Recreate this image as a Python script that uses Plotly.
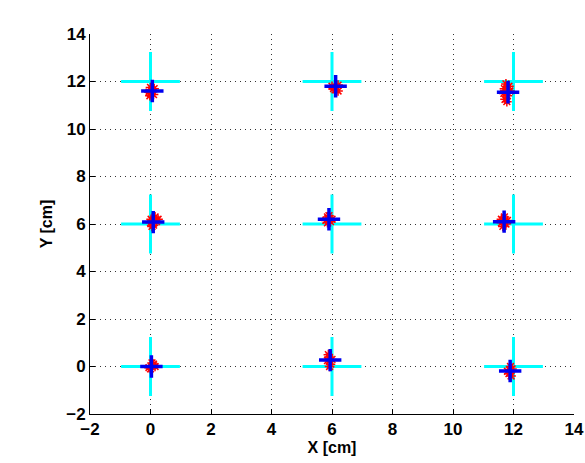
import plotly.graph_objects as go

# Ground-truth positions (cyan crosses)
true_x = [0, 6, 12, 0, 6, 12, 0, 6, 12]
true_y = [12, 12, 12, 6, 6, 6, 0, 0, 0]

# Mean estimates (blue crosses)
est_x = [0.06, 6.12, 11.82, 0.09, 5.90, 11.69, 0.03, 5.94, 11.89]
est_y = [11.60, 11.80, 11.55, 6.08, 6.20, 6.10, 0.00, 0.27, -0.19]

# Individual estimates (red asterisks)
meas_x = [0.00, -0.05, 0.10, 0.05, -0.02, 0.12, 0.00,
          6.20, 6.05, 6.10, 6.15, 6.00, 6.20,
          11.75, 11.70, 11.85, 11.80, 11.72, 11.88, 11.78, 11.68,
          0.15, 0.20, 0.05, 0.00, 0.25, 0.10, 0.02,
          5.85, 5.95, 5.80, 5.90, 6.00, 5.85,
          11.60, 11.75, 11.65, 11.80, 11.70, 11.60,
          0.10, -0.05, 0.05, 0.15, 0.00, 0.08,
          5.90, 5.95, 5.85, 6.00, 5.92, 5.88,
          11.85, 11.95, 11.90, 11.80, 11.92, 11.88]
meas_y = [11.75, 11.55, 11.45, 11.65, 11.40, 11.70, 11.50,
          11.85, 11.70, 11.65, 11.75, 11.80, 11.60,
          11.90, 11.70, 11.80, 11.40, 11.25, 11.60, 11.15, 11.50,
          6.30, 6.10, 5.90, 6.05, 6.20, 5.95, 6.20,
          6.30, 6.10, 6.15, 6.35, 6.20, 6.05,
          6.20, 6.00, 5.90, 6.15, 6.30, 6.05,
          0.10, -0.05, 0.15, 0.00, -0.10, 0.05,
          0.40, 0.10, 0.25, 0.30, 0.00, 0.50,
          -0.30, -0.10, 0.00, -0.20, -0.40, -0.15]

tick_vals = [-2, 0, 2, 4, 6, 8, 10, 12, 14]

fig = go.Figure()
fig.add_trace(go.Scatter(
    x=true_x, y=true_y, mode="markers",
    marker=dict(symbol="cross-thin", size=42, color="#00FFFF",
                line=dict(color="#00FFFF", width=3)),
    showlegend=False, hoverinfo="skip"))
fig.add_trace(go.Scatter(
    x=meas_x, y=meas_y, mode="markers",
    marker=dict(symbol="asterisk-open", size=8, color="#FF0000",
                line=dict(color="#FF0000", width=1.5)),
    showlegend=False))
fig.add_trace(go.Scatter(
    x=est_x, y=est_y, mode="markers",
    marker=dict(symbol="cross-thin", size=16, color="#0000F0",
                line=dict(color="#0000F0", width=3.5)),
    showlegend=False))

font_family = "Liberation Sans, Arial, sans-serif"
axis_common = dict(
    tickvals=tick_vals,
    automargin=False,
    showgrid=True, gridcolor="#333333", gridwidth=1, griddash="1px,4px",
    zeroline=False, showline=True, linecolor="black", linewidth=1,
    ticks="inside", ticklen=5, tickcolor="black",
    tickfont=dict(family=font_family, size=17, color="black", weight="bold"),
    mirror=False,
)

fig.update_layout(
    width=585, height=463,
    margin=dict(l=90, r=11, t=34, b=49),
    paper_bgcolor="white", plot_bgcolor="white",
    font=dict(family=font_family, color="black"),
    xaxis=dict(range=[-2, 14], title=dict(text="<b>X [cm]</b>", standoff=2,
               font=dict(size=16, family=font_family)), **axis_common),
    yaxis=dict(range=[-2, 14], title=dict(text="<b>Y [cm]</b>", standoff=9,
               font=dict(size=16, family=font_family)), **axis_common),
)

fig.write_html(
    "out.html",
    config={"displayModeBar": False},
    post_script="document.body.style.margin='0';document.body.style.overflow='hidden';",
)
